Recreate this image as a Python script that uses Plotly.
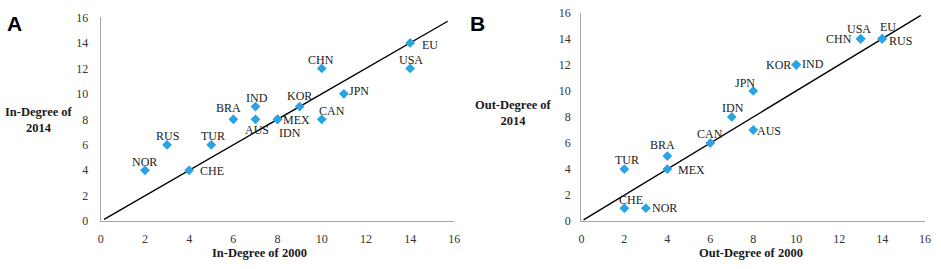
import plotly.graph_objects as go

# ---------------- data ----------------
countries_a = ["NOR", "RUS", "TUR", "CHE", "BRA", "IND", "AUS", "MEX", "IDN",
               "KOR", "CHN", "CAN", "JPN", "USA", "EU"]
in_degree_2000 = [2, 3, 5, 4, 6, 7, 7, 8, 8, 9, 10, 10, 11, 14, 14]
in_degree_2014 = [4, 6, 6, 4, 8, 9, 8, 8, 8, 9, 12, 8, 10, 12, 14]

countries_b = ["TUR", "CHE", "NOR", "BRA", "MEX", "CAN", "IDN", "AUS", "JPN",
               "KOR", "IND", "CHN", "USA", "EU", "RUS"]
out_degree_2000 = [2, 2, 3, 4, 4, 6, 7, 8, 8, 10, 10, 13, 13, 14, 14]
out_degree_2014 = [4, 1, 1, 5, 4, 6, 8, 7, 10, 12, 12, 14, 14, 14, 14]

# reference (equality) line extents
ref_line_a = [0.15, 15.7]
ref_line_b = [0.1, 15.8]

axis_ticks = [0, 2, 4, 6, 8, 10, 12, 14, 16]

# ---------------- label styling (anchor, dx px, dy px; dy up) ----------------
label_style_a = [("center", 0, 8.5), ("center", 0, 8.5), ("center", 1.5, 8.5),
                 ("left", 10, -0.5), ("center", -5, 11), ("center", 2, 8.7),
                 ("center", 2, -10.3), ("left", 4, -0.5), ("left", 0.5, -14),
                 ("center", 0, 10.3), ("center", -1, 8.3), ("left", -4, 8),
                 ("left", 4, 3.3), ("center", 1, 8.7), ("left", 11, -1.7)]
label_style_b = [("center", 2.3, 8.7), ("center", 6.7, 8), ("left", 5, 0),
                 ("center", -5, 11), ("left", 10, -1), ("center", 0, 9),
                 ("center", 1.7, 9), ("left", 3, -0.7), ("center", -8, 8.3),
                 ("right", -4, -0.3), ("left", 5, 0.7), ("right", -7.5, -0.7),
                 ("center", -1.7, 10), ("center", 6, 12), ("left", 6, -2.3)]

SERIF = "Liberation Serif, Times New Roman, serif"
MARKER_COLOR = "#29A3E3"
AXIS_COLOR = "#A6A6A6"

fig = go.Figure()

# Panel A
fig.add_trace(go.Scatter(x=ref_line_a, y=ref_line_a, mode="lines",
                         line=dict(color="black", width=1.4),
                         xaxis="x", yaxis="y", hoverinfo="skip", showlegend=False))
fig.add_trace(go.Scatter(x=in_degree_2000, y=in_degree_2014, mode="markers",
                         marker=dict(symbol="diamond", size=7.5, color=MARKER_COLOR),
                         text=countries_a, xaxis="x", yaxis="y", showlegend=False))
# Panel B
fig.add_trace(go.Scatter(x=ref_line_b, y=ref_line_b, mode="lines",
                         line=dict(color="black", width=1.4),
                         xaxis="x2", yaxis="y2", hoverinfo="skip", showlegend=False))
fig.add_trace(go.Scatter(x=out_degree_2000, y=out_degree_2014, mode="markers",
                         marker=dict(symbol="diamond", size=7.5, color=MARKER_COLOR),
                         text=countries_b, xaxis="x2", yaxis="y2", showlegend=False))

annotations = []
for names, xs, ys, styles, xr, yr in [
    (countries_a, in_degree_2000, in_degree_2014, label_style_a, "x", "y"),
    (countries_b, out_degree_2000, out_degree_2014, label_style_b, "x2", "y2"),
]:
    for n, xv, yv, (anc, dx, dy) in zip(names, xs, ys, styles):
        annotations.append(dict(
            x=xv, y=yv, xref=xr, yref=yr, text=n, showarrow=False,
            xanchor=anc, yanchor="middle", xshift=dx, yshift=dy,
            font=dict(family=SERIF, size=12, color="#1a1a1a"),
            borderpad=0,
        ))

W, H = 941, 269
title_font = dict(family=SERIF, size=12.5, color="#1a1a1a")
annotations += [
    dict(x=259 / W, y=1 - 259 / H, xref="paper", yref="paper", text="<b>In-Degree of 2000</b>",
         showarrow=False, xanchor="center", yanchor="middle", font=title_font),
    dict(x=755 / W, y=1 - 259 / H, xref="paper", yref="paper", text="<b>Out-Degree of 2000</b>",
         showarrow=False, xanchor="center", yanchor="middle", font=title_font),
    dict(x=36 / W, y=1 - 119 / H, xref="paper", yref="paper", text="<b>In-Degree of<br>2014</b>",
         showarrow=False, xanchor="center", yanchor="middle", font=title_font),
    dict(x=515 / W, y=1 - 112 / H, xref="paper", yref="paper", text="<b>Out-Degree of<br>2014</b>",
         showarrow=False, xanchor="center", yanchor="middle", font=title_font),
    dict(x=11.5 / W, y=1 - 17 / H, xref="paper", yref="paper", text="<b>A</b>",
         showarrow=False, xanchor="center", yanchor="middle",
         font=dict(family="Liberation Sans, Arial, sans-serif", size=21, color="black")),
    dict(x=479 / W, y=1 - 17 / H, xref="paper", yref="paper", text="<b>B</b>",
         showarrow=False, xanchor="center", yanchor="middle",
         font=dict(family="Liberation Sans, Arial, sans-serif", size=21, color="black")),
]

axis_common = dict(range=[0, 16], tickvals=axis_ticks, showgrid=False, zeroline=False,
                   showline=True, linecolor=AXIS_COLOR, linewidth=1.3, ticks="",
                   ticklabeloverflow="allow",
                   tickfont=dict(family=SERIF, size=12, color="#333333"), fixedrange=True)

fig.update_layout(
    width=W, height=H,
    margin=dict(l=0, r=0, t=0, b=0),
    paper_bgcolor="white", plot_bgcolor="white",
    xaxis=dict(domain=[98.7 / W, 455.7 / W], anchor="y", ticklabelstandoff=6, **axis_common),
    yaxis=dict(domain=[1 - 226 / H, 1 - 11 / H], anchor="x", ticklabelstandoff=9, **axis_common),
    xaxis2=dict(domain=[584 / W, 931 / W], anchor="y2", ticklabelstandoff=6, **axis_common),
    yaxis2=dict(domain=[1 - 226 / H, 1 - 6 / H], anchor="x2", ticklabelstandoff=7, **axis_common),
    annotations=annotations,
    showlegend=False,
)

fig.write_html("out.html", config={"displayModeBar": False},
               post_script="document.body.style.margin='0';document.body.style.overflow='hidden';")
